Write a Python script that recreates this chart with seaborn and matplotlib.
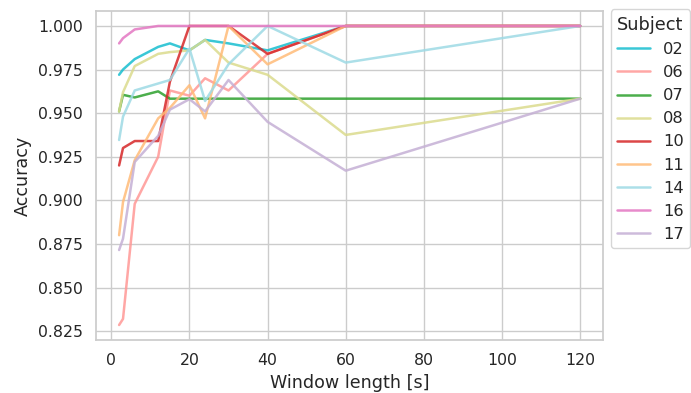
import matplotlib
matplotlib.use("Agg")
import matplotlib.pyplot as plt
import seaborn as sns
import pandas as pd

# Window lengths (seconds) evaluated for every subject
window_lengths = [2, 3, 6, 12, 15, 20, 24, 30, 40, 60, 120]

subjects = ["02", "06", "07", "08", "10", "11", "14", "16", "17"]

acc_02 = [0.972, 0.975, 0.981, 0.988, 0.990, 0.986, 0.992, 0.990, 0.986, 1.000, 1.000]
acc_06 = [0.8285, 0.832, 0.898, 0.925, 0.963, 0.960, 0.970, 0.963, 0.984, 1.000, 1.000]
acc_07 = [0.951, 0.9605, 0.959, 0.9625, 0.9583, 0.9583, 0.9583, 0.9583, 0.9583, 0.9583, 0.9583]
acc_08 = [0.951, 0.962, 0.977, 0.984, 0.985, 0.986, 0.992, 0.979, 0.972, 0.9375, 0.9583]
acc_10 = [0.920, 0.930, 0.934, 0.934, 0.968, 1.000, 1.000, 1.000, 0.984, 1.000, 1.000]
acc_11 = [0.880, 0.899, 0.923, 0.947, 0.953, 0.966, 0.947, 1.000, 0.978, 1.000, 1.000]
acc_14 = [0.9346, 0.948, 0.963, 0.967, 0.969, 0.987, 0.957, 0.978, 1.000, 0.979, 1.000]
acc_16 = [0.990, 0.993, 0.998, 1.000, 1.000, 1.000, 1.000, 1.000, 1.000, 1.000, 1.000]
acc_17 = [0.8715, 0.878, 0.922, 0.937, 0.952, 0.958, 0.951, 0.969, 0.945, 0.917, 0.9583]

accuracies = [acc_02, acc_06, acc_07, acc_08, acc_10, acc_11, acc_14, acc_16, acc_17]

colors = ["#17becf", "#ff9896", "#2ca02c", "#dbdb8d", "#d62728",
          "#ffbb78", "#9edae5", "#e377c2", "#c5b0d5"]

rows = []
for subj, accs in zip(subjects, accuracies):
    for w, a in zip(window_lengths, accs):
        rows.append({"Window length [s]": w, "Accuracy": a, "Subject": subj})
df = pd.DataFrame(rows)

sns.set_theme(style="whitegrid", context="notebook")
plt.rcParams.update({
    "xtick.labelsize": 11.3,
    "ytick.labelsize": 11.3,
    "axes.labelsize": 12.6,
    "legend.fontsize": 11.7,
    "legend.title_fontsize": 12.8,
})

fig, ax = plt.subplots(figsize=(6.91, 3.93), dpi=100)
sns.lineplot(data=df, x="Window length [s]", y="Accuracy", hue="Subject",
             hue_order=subjects, palette=dict(zip(subjects, colors)),
             linewidth=1.8, alpha=0.85, ax=ax)

ax.set_xticks([0, 20, 40, 60, 80, 100, 120])
ax.set_yticks([0.825, 0.850, 0.875, 0.900, 0.925, 0.950, 0.975, 1.000])
ax.yaxis.set_major_formatter(matplotlib.ticker.FormatStrFormatter("%.3f"))

leg = ax.legend(title="Subject", loc="upper left", bbox_to_anchor=(1.015, 1.005),
                borderaxespad=0.0)
for line in leg.get_lines():
    line.set_alpha(0.85)
    line.set_linewidth(1.8)

fig.subplots_adjust(left=0.139, right=0.873, top=0.972, bottom=0.135)
fig.savefig("out.png", dpi=100)
